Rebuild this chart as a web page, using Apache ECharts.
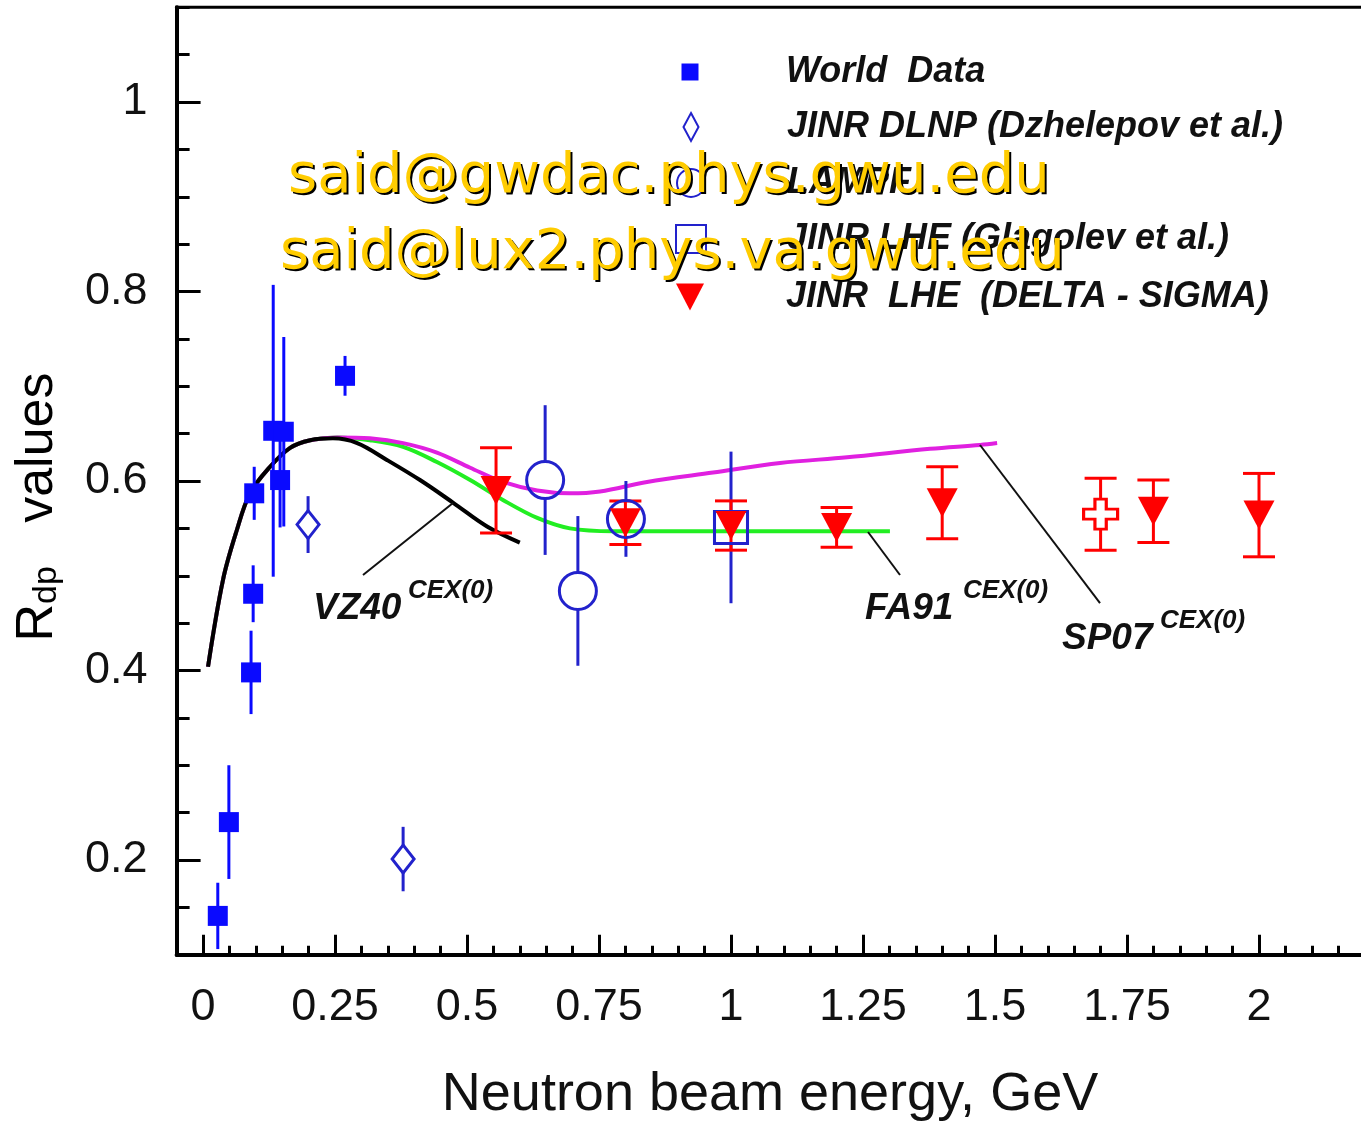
<!DOCTYPE html>
<html>
<head>
<meta charset="utf-8">
<script src="https://cdn.jsdelivr.net/npm/echarts@6/dist/echarts.min.js"></script>
<style>
  html, body { margin: 0; padding: 0; background: #fff; }
  #chart { width: 1361px; height: 1125px; }
</style>
</head>
<body>
<div id="chart"></div>
<script>
// data
// World Data (filled squares)
const worldE = [0.028, 0.049, 0.091, 0.095, 0.097, 0.133, 0.153, 0.146, 0.269];
const worldR = [0.141, 0.240, 0.398, 0.481, 0.587, 0.653, 0.652, 0.601, 0.711];
const worldErr = [0.035, 0.060, 0.044, 0.030, 0.028, 0.154, 0.100, 0.050, 0.021];
// JINR DLNP (open diamonds)
const dlnpE = [0.199, 0.379];
const dlnpR = [0.554, 0.201];
const dlnpErr = [0.030, 0.034];
// LAMPF (open circles)
const lampfE = [0.648, 0.710, 0.801];
const lampfR = [0.601, 0.484, 0.560];
const lampfErr = [0.079, 0.079, 0.040];
// JINR LHE Glagolev (open square)
const glagE = [1.0];
const glagR = [0.551];
const glagErr = [0.080];
// JINR LHE DELTA-SIGMA (red triangles)
const sigmaE = [0.555, 0.80, 1.0, 1.20, 1.40, 1.80, 2.0];
const sigmaR = [0.590, 0.556, 0.553, 0.551, 0.577, 0.568, 0.564];
const sigmaErr = [0.045, 0.023, 0.026, 0.021, 0.038, 0.033, 0.044];
// red open cross
const crossE = [1.70];
const crossR = [0.565];
const crossErr = [0.038];

// PWA curves
const vz40E = [0.0095, 0.038, 0.064, 0.089, 0.127, 0.165, 0.203, 0.246, 0.292, 0.349, 0.411, 0.474, 0.538, 0.600];
const vz40R = [0.404, 0.496, 0.548, 0.587, 0.615, 0.635, 0.643, 0.645, 0.640, 0.622, 0.601, 0.577, 0.552, 0.535];
const fa91E = [0.0095, 0.038, 0.064, 0.089, 0.127, 0.165, 0.203, 0.254, 0.316, 0.379, 0.443, 0.506, 0.568, 0.633, 0.695, 0.777, 0.941, 1.131, 1.301];
const fa91R = [0.404, 0.496, 0.548, 0.587, 0.615, 0.635, 0.643, 0.646, 0.643, 0.636, 0.620, 0.601, 0.580, 0.561, 0.550, 0.547, 0.547, 0.547, 0.547];
const sp07E = [0.0095, 0.038, 0.064, 0.089, 0.127, 0.165, 0.203, 0.254, 0.316, 0.379, 0.443, 0.506, 0.568, 0.633, 0.695, 0.752, 0.841, 0.966, 1.093, 1.220, 1.377, 1.472, 1.504];
const sp07R = [0.404, 0.496, 0.548, 0.587, 0.615, 0.635, 0.643, 0.646, 0.645, 0.640, 0.630, 0.614, 0.599, 0.590, 0.587, 0.589, 0.599, 0.609, 0.619, 0.625, 0.634, 0.638, 0.640];

// label pointer lines
const vzPtrE = [0.4735, 0.303];
const vzPtrR = [0.5768, 0.5008];
const faPtrE = [1.2595, 1.3201];
const faPtrR = [0.5462, 0.5008];
const spPtrE = [1.4716, 1.6989];
const spPtrR = [0.638, 0.4712];

// tick labels
const xLabels = [0, 0.25, 0.5, 0.75, 1, 1.25, 1.5, 1.75, 2];
const yLabels = [0.2, 0.4, 0.6, 0.8, 1];
const xMinor = [];
for (let i = -1; i <= 45; i++) xMinor.push(+(i * 0.05).toFixed(2));
const yMinor = [];
for (let i = 2; i <= 22; i++) yMinor.push(+(i * 0.05).toFixed(2));

const BLUE = '#0a0aff';
const DBLUE = '#2222cc';
const RED = '#ff0000';

function pts(xs, ys) { return xs.map((x, i) => [x, ys[i]]); }
function errPts(xs, ys, es) { return xs.map((x, i) => [x, ys[i], es[i]]); }

function errorBar(color, gap, cap) {
    return function (params, api) {
        const x = api.value(0), y = api.value(1), e = api.value(2);
        const c = api.coord([x, y]);
        const hi = api.coord([x, y + e]);
        const lo = api.coord([x, y - e]);
        const st = { stroke: color, lineWidth: 3 };
        const kids = [
            { type: 'line', shape: { x1: c[0], y1: hi[1], x2: c[0], y2: Math.max(hi[1], c[1] - gap) }, style: st },
            { type: 'line', shape: { x1: c[0], y1: Math.min(lo[1], c[1] + gap), x2: c[0], y2: lo[1] }, style: st }
        ];
        if (cap) {
            kids.push({ type: 'line', shape: { x1: c[0] - cap, y1: hi[1], x2: c[0] + cap, y2: hi[1] }, style: st });
            kids.push({ type: 'line', shape: { x1: c[0] - cap, y1: lo[1], x2: c[0] + cap, y2: lo[1] }, style: st });
        }
        return { type: 'group', children: kids };
    };
}

function errSeries(data, color, gap, cap) {
    return {
        type: 'custom',
        data: data,
        encode: { x: 0, y: 1 },
        renderItem: errorBar(color, gap, cap),
        silent: true,
        z: 3
    };
}

function curve(name, data, color, w) {
    return {
        name: name,
        type: 'line',
        data: data,
        smooth: 0.35,
        showSymbol: false,
        lineStyle: { color: color, width: w },
        silent: true,
        z: 2
    };
}

function pointer(data) {
    return {
        type: 'line',
        data: data,
        showSymbol: false,
        lineStyle: { color: '#111', width: 2 },
        silent: true,
        z: 2
    };
}

const DIAMOND = 'path://M11,0L22,14L11,28L0,14Z';
const CROSS = 'path://M1,0H2V1H3V2H2V3H1V2H0V1H1Z';
const DOWN_TRI = 'path://M0,0L2,0L1,2Z';

const LEGEND_FONT = 36;
const legendText = {
    fontFamily: 'Liberation Sans',
    fontWeight: 'bold',
    fontStyle: 'italic',
    fontSize: LEGEND_FONT,
    color: '#111'
};

function legendRow(name, cy, w, h, icon, keep) {
    const lg = {
        data: [icon ? { name: name, icon: icon } : name],
        orient: 'vertical',
        left: 690 - w / 2,
        top: cy - Math.max(h, LEGEND_FONT) / 2,
        padding: 0,
        itemWidth: w,
        itemHeight: h,
        selectedMode: false,
        textStyle: Object.assign({ padding: [0, 0, 0, 96 - w / 2 - 5] }, legendText)
    };
    if (keep === false) lg.symbolKeepAspect = false;
    return lg;
}

function labelText(x, y, main, sup, supDx) {
    return [
        {
            type: 'text', left: x, top: y, z: 50,
            style: { text: main, font: 'italic bold 37px "Liberation Sans"', fill: '#111' }
        },
        {
            type: 'text', left: x + supDx, top: y - 12, z: 50,
            style: { text: sup, font: 'italic bold 26px "Liberation Sans"', fill: '#111' }
        }
    ];
}

const chart = echarts.init(document.getElementById('chart'));

const option = {
    backgroundColor: '#fff',
    animation: false,
    grid: {
        left: 176.6,
        width: 1214.4,
        top: 7.25,
        height: 947.5,
        outerBoundsMode: 'none',
        containLabel: false,
        show: true,
        borderColor: '#000',
        borderWidth: 3
    },
    xAxis: [{
        type: 'value',
        position: 'bottom',
        min: -0.05,
        max: 2.25,
        axisLine: { show: true, onZero: false, lineStyle: { color: '#000', width: 4 } },
        axisTick: { show: true, inside: true, length: 20, customValues: xLabels, lineStyle: { color: '#000', width: 3 } },
        axisLabel: {
            customValues: xLabels,
            margin: 30,
            fontFamily: 'Liberation Sans',
            fontSize: 45,
            color: '#111'
        },
        splitLine: { show: false }
    }, {
        type: 'value',
        position: 'bottom',
        offset: 0,
        min: -0.05,
        max: 2.25,
        axisLine: { show: true, onZero: false, lineStyle: { color: 'rgba(0,0,0,0)' } },
        axisTick: { show: true, inside: true, length: 9, customValues: xMinor, lineStyle: { color: '#000', width: 3 } },
        axisLabel: { show: false },
        splitLine: { show: false }
    }],
    yAxis: [{
        type: 'value',
        position: 'left',
        min: 0.1,
        max: 1.1,
        axisLine: { show: true, onZero: false, lineStyle: { color: '#000', width: 4 } },
        axisTick: { show: true, inside: true, length: 24, customValues: yLabels, lineStyle: { color: '#000', width: 3 } },
        axisLabel: {
            customValues: yLabels,
            margin: 29,
            fontFamily: 'Liberation Sans',
            fontSize: 45,
            color: '#111'
        },
        splitLine: { show: false }
    }, {
        type: 'value',
        position: 'left',
        offset: 0,
        min: 0.1,
        max: 1.1,
        axisLine: { show: true, onZero: false, lineStyle: { color: 'rgba(0,0,0,0)' } },
        axisTick: { show: true, inside: true, length: 13, customValues: yMinor, lineStyle: { color: '#000', width: 3 } },
        axisLabel: { show: false },
        splitLine: { show: false }
    }],
    legend: [
        legendRow('World  Data', 72, 17, 17, 'rect'),
        legendRow('JINR DLNP (Dzhelepov et al.)', 127, 15, 28, DIAMOND, false),
        legendRow('LAMPF', 183, 28, 28),
        legendRow('JINR LHE (Glagolev et al.)', 239, 30, 28, 'rect', false),
        legendRow('JINR  LHE  (DELTA - SIGMA)', 297, 28, 27, DOWN_TRI, false)
    ],
    series: [
        curve('FA91', pts(fa91E, fa91R), '#22ee22', 4),
        curve('SP07', pts(sp07E, sp07R), '#e020e0', 4),
        curve('VZ40', pts(vz40E, vz40R), '#000000', 4),
        pointer(pts(vzPtrE, vzPtrR)),
        pointer(pts(faPtrE, faPtrR)),
        pointer(pts(spPtrE, spPtrR)),
        errSeries(errPts(worldE, worldR, worldErr), BLUE, 0, 0),
        errSeries(errPts(dlnpE, dlnpR, dlnpErr), DBLUE, 13, 0),
        errSeries(errPts(lampfE, lampfR, lampfErr), DBLUE, 19, 0),
        errSeries(errPts(glagE, glagR, glagErr), DBLUE, 16, 0),
        errSeries(errPts(sigmaE, sigmaR, sigmaErr), RED, 0, 16),
        errSeries(errPts(crossE, crossR, crossErr), RED, 0, 16),
        {
            name: 'World  Data',
            type: 'scatter',
            data: pts(worldE, worldR),
            symbol: 'rect',
            symbolSize: 20,
            itemStyle: { color: BLUE, opacity: 1 },
            z: 4
        },
        {
            name: 'JINR DLNP (Dzhelepov et al.)',
            type: 'scatter',
            data: pts(dlnpE, dlnpR),
            symbol: DIAMOND,
            symbolSize: [22, 28],
            itemStyle: { color: 'rgba(255,255,255,0)', borderColor: DBLUE, borderWidth: 3, opacity: 1 },
            z: 4
        },
        {
            name: 'LAMPF',
            type: 'scatter',
            data: pts(lampfE, lampfR),
            symbol: 'circle',
            symbolSize: 37,
            itemStyle: { color: 'rgba(255,255,255,0)', borderColor: DBLUE, borderWidth: 3, opacity: 1 },
            z: 4
        },
        {
            name: 'JINR LHE (Glagolev et al.)',
            type: 'scatter',
            data: pts(glagE, glagR),
            symbol: 'rect',
            symbolSize: [33, 32],
            itemStyle: { color: 'rgba(255,255,255,0)', borderColor: DBLUE, borderWidth: 3, opacity: 1 },
            z: 4
        },
        {
            name: 'JINR  LHE  (DELTA - SIGMA)',
            type: 'scatter',
            data: pts(sigmaE, sigmaR),
            symbol: DOWN_TRI,
            symbolSize: [31, 29],
            itemStyle: { color: RED, opacity: 1 },
            z: 5
        },
        {
            name: 'cross',
            type: 'scatter',
            data: pts(crossE, crossR),
            symbol: CROSS,
            symbolSize: [34, 30],
            itemStyle: { color: '#fff', borderColor: RED, borderWidth: 3, opacity: 1 },
            z: 5
        }
    ],
    graphic: [
        // y axis title
        {
            type: 'text',
            x: 38,
            y: 507,
            rotation: Math.PI / 2,
            z: 50,
            style: {
                text: '{r|R}{s|dp}{v|   values}',
                align: 'center',
                verticalAlign: 'middle',
                rich: {
                    r: { fontFamily: 'Liberation Sans', fontSize: 52, color: '#111', verticalAlign: 'bottom' },
                    s: { fontFamily: 'Liberation Sans', fontSize: 34, color: '#111', verticalAlign: 'bottom', lineHeight: 30 },
                    v: { fontFamily: 'Liberation Sans', fontSize: 52, color: '#111', verticalAlign: 'bottom' }
                }
            }
        },
        // x axis title
        {
            type: 'text',
            x: 770,
            y: 1095,
            z: 50,
            style: {
                text: 'Neutron beam energy, GeV',
                font: '54px "Liberation Sans"',
                fill: '#111',
                align: 'center',
                verticalAlign: 'middle'
            }
        },
        ...labelText(313, 590, 'VZ40', 'CEX(0)', 95),
        ...labelText(865, 590, 'FA91', 'CEX(0)', 98),
        ...labelText(1062, 620, 'SP07', 'CEX(0)', 98),
        // watermark lines
        { type: 'text', x: 290, y: 179, z: 90, style: { text: 'said@gwdac.phys.gwu.edu', font: '56px "DejaVu Sans"', fill: '#000', verticalAlign: 'middle' } },
        { type: 'text', x: 288, y: 177, z: 91, style: { text: 'said@gwdac.phys.gwu.edu', font: '56px "DejaVu Sans"', fill: '#ffcc00', verticalAlign: 'middle' } },
        { type: 'text', x: 282, y: 255, z: 90, style: { text: 'said@lux2.phys.va.gwu.edu', font: '56px "DejaVu Sans"', fill: '#000', verticalAlign: 'middle' } },
        { type: 'text', x: 280, y: 253, z: 91, style: { text: 'said@lux2.phys.va.gwu.edu', font: '56px "DejaVu Sans"', fill: '#ffcc00', verticalAlign: 'middle' } }
    ]
};

chart.setOption(option);
</script>
</body>
</html>
